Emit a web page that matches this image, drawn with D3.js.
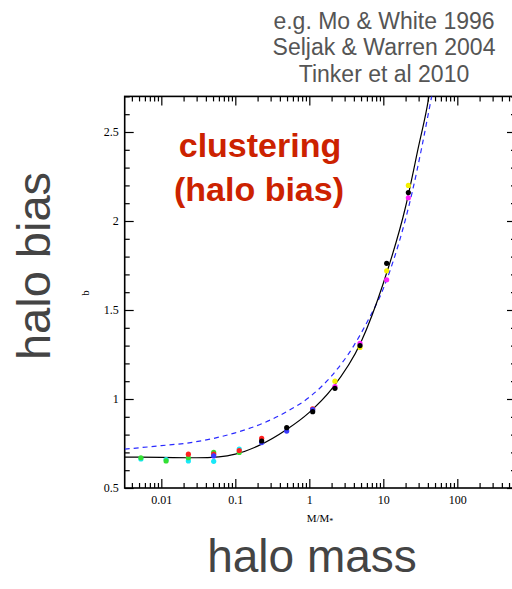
<!DOCTYPE html>
<html>
<head>
<meta charset="utf-8">
<script src="https://cdn.jsdelivr.net/npm/d3@7"></script>
<style>
  html, body { margin: 0; padding: 0; background: #fff; }
  svg { display: block; }
</style>
</head>
<body>
<svg id="chart" width="512" height="589"></svg>
<script>
// Halo bias b as a function of mass in units of the non-linear mass M*.

// Tick values
const xMajorTicks = [0.01, 0.1, 1, 10, 100];
const xTickLabels = ["0.01", "0.1", "1", "10", "100"];
const yMajorTicks = [0.5, 1, 1.5, 2, 2.5];
const yTickLabels = ["0.5", "1", "1.5", "2", "2.5"];

// Fitting function (solid black)
const fitMass = [0.0032, 0.01, 0.03, 0.06, 0.1, 0.2, 0.5, 1, 2, 5, 10, 20, 30, 40.6, 45];
const fitBias = [0.674, 0.672, 0.670, 0.675, 0.69, 0.735, 0.83, 0.925, 1.055, 1.32, 1.65, 2.08, 2.42, 2.68, 2.80];

// Analytic model (dashed blue)
const modelMass = [0.0032, 0.01, 0.022, 0.05, 0.1, 0.24, 0.5, 1, 2, 4, 6, 10, 24.5, 45, 50];
const modelBias = [0.718, 0.738, 0.752, 0.778, 0.81, 0.865, 0.93, 1.01, 1.13, 1.30, 1.43, 1.62, 2.16, 2.70, 2.80];

// Simulation measurements, one list per simulation set: [M/M*, b]
const simCyan    = [[0.0053, 0.663], [0.0116, 0.660], [0.0232, 0.652], [0.051, 0.650], [0.113, 0.719]];
const simGreen   = [[0.0053, 0.670], [0.0116, 0.652], [0.0232, 0.670], [0.051, 0.700], [0.113, 0.700]];
const simRed     = [[0.0232, 0.690], [0.051, 0.690], [0.113, 0.710], [0.227, 0.779], [1.11, 0.944]];
const simBlue    = [[0.051, 0.680], [0.227, 0.755], [0.495, 0.820], [1.11, 0.940]];
const simBlack   = [[0.227, 0.764], [0.495, 0.839], [1.11, 0.929], [2.22, 1.060], [4.84, 1.300], [11.1, 1.762], [21.8, 2.160]];
const simMagenta = [[2.22, 1.070], [4.84, 1.313], [11.1, 1.670], [21.8, 2.130]];
const simYellow  = [[2.22, 1.100], [4.84, 1.290], [11.1, 1.720], [21.8, 2.200]];

const simSets = [
  { pts: simCyan,    color: "#18e8f8" },
  { pts: simGreen,   color: "#33e033" },
  { pts: simRed,     color: "#ff2020" },
  { pts: simBlue,    color: "#3a3aff" },
  { pts: simMagenta, color: "#ff22ff" },
  { pts: simYellow,  color: "#f5f000" },
  { pts: simBlack,   color: "#000000" }
];

const svg = d3.select("#chart");

const plotLeft = 124.7, plotRight = 516, plotTop = 96.4, plotBottom = 488;

const x = d3.scaleLog().domain([0.0032, 621]).range([plotLeft, plotRight]);
const y = d3.scaleLinear().domain([0.5, 2.7]).range([plotBottom, plotTop]);

// Minor tick values
const xMinor = [];
for (let e = -3; e <= 2; e++) {
  for (let k = 2; k <= 9; k++) {
    const v = k * Math.pow(10, e);
    if (v >= 0.0032 && v <= 621) xMinor.push(v);
  }
}
const yMinor = d3.range(5, 28).map(i => i / 10).filter(v => !yMajorTicks.some(t => Math.abs(t - v) < 1e-9));

const serif = "'Liberation Serif', 'DejaVu Serif', serif";
const sans = "'Liberation Sans', Arial, Helvetica, sans-serif";

// Clip for curves
svg.append("defs").append("clipPath").attr("id", "plotClip")
  .append("rect").attr("x", plotLeft).attr("y", plotTop)
  .attr("width", plotRight - plotLeft).attr("height", plotBottom - plotTop);

function styleAxis(g) {
  g.selectAll(".domain").remove();
  g.selectAll(".tick line").attr("stroke", "#000").attr("stroke-width", 1.2);
  g.selectAll("text").attr("font-family", serif).attr("font-size", 12).attr("fill", "#000");
}

// Bottom axis
svg.append("g").attr("transform", `translate(0,${plotBottom})`)
  .call(d3.axisBottom(x).tickValues(xMajorTicks).tickSize(-9).tickPadding(7)
    .tickFormat((d, i) => xTickLabels[i]))
  .call(styleAxis);
svg.append("g").attr("transform", `translate(0,${plotBottom})`)
  .call(d3.axisBottom(x).tickValues(xMinor).tickSize(-5).tickFormat(""))
  .call(styleAxis);
// Top axis
svg.append("g").attr("transform", `translate(0,${plotTop})`)
  .call(d3.axisTop(x).tickValues(xMajorTicks).tickSize(-9).tickFormat(""))
  .call(styleAxis);
svg.append("g").attr("transform", `translate(0,${plotTop})`)
  .call(d3.axisTop(x).tickValues(xMinor).tickSize(-5).tickFormat(""))
  .call(styleAxis);
// Left axis
svg.append("g").attr("transform", `translate(${plotLeft},0)`)
  .call(d3.axisLeft(y).tickValues(yMajorTicks).tickSize(-9).tickPadding(6)
    .tickFormat((d, i) => yTickLabels[i]))
  .call(styleAxis);
svg.append("g").attr("transform", `translate(${plotLeft},0)`)
  .call(d3.axisLeft(y).tickValues(yMinor).tickSize(-5).tickFormat(""))
  .call(styleAxis);
// Right axis
svg.append("g").attr("transform", `translate(${plotRight},0)`)
  .call(d3.axisRight(y).tickValues(yMajorTicks).tickSize(-9).tickFormat(""))
  .call(styleAxis);
svg.append("g").attr("transform", `translate(${plotRight},0)`)
  .call(d3.axisRight(y).tickValues(yMinor).tickSize(-5).tickFormat(""))
  .call(styleAxis);

// Frame
svg.append("rect").attr("x", plotLeft).attr("y", plotTop)
  .attr("width", plotRight - plotLeft).attr("height", plotBottom - plotTop)
  .attr("fill", "none").attr("stroke", "#000").attr("stroke-width", 1.6);

// Curves
const line = d3.line().x(d => x(d[0])).y(d => y(d[1])).curve(d3.curveMonotoneX);
const plot = svg.append("g").attr("clip-path", "url(#plotClip)");

plot.append("path")
  .datum(modelMass.map((m, i) => [m, modelBias[i]]))
  .attr("d", line).attr("fill", "none")
  .attr("stroke", "#2a2aff").attr("stroke-width", 1.2).attr("stroke-dasharray", "5,4");

plot.append("path")
  .datum(fitMass.map((m, i) => [m, fitBias[i]]))
  .attr("d", line).attr("fill", "none")
  .attr("stroke", "#000").attr("stroke-width", 1.2);

// Simulation points
simSets.forEach(s => {
  plot.append("g").selectAll("circle").data(s.pts).join("circle")
    .attr("cx", d => x(d[0])).attr("cy", d => y(d[1])).attr("r", 2.6)
    .attr("fill", s.color);
});

// Axis titles
svg.append("text").attr("transform", "translate(89,293) rotate(-90)")
  .attr("text-anchor", "middle").attr("font-family", serif).attr("font-size", 11).text("b");

const xt = svg.append("text").attr("x", 320).attr("y", 522).attr("text-anchor", "middle")
  .attr("font-family", serif).attr("font-size", 11);
xt.append("tspan").text("M/M");
xt.append("tspan").attr("font-size", 8).attr("dy", 2).text("*");

// Annotations
svg.append("text").attr("transform", "translate(50,266) rotate(-90)")
  .attr("text-anchor", "middle").attr("font-family", sans).attr("font-size", 47)
  .attr("fill", "#444").text("halo bias");

svg.append("text").attr("x", 312).attr("y", 572).attr("text-anchor", "middle")
  .attr("font-family", sans).attr("font-size", 46).attr("fill", "#444").text("halo mass");

const red = svg.append("g").attr("font-family", sans).attr("font-weight", "bold")
  .attr("font-size", 34).attr("fill", "#cc2200").attr("text-anchor", "middle");
red.append("text").attr("x", 260).attr("y", 157).text("clustering");
red.append("text").attr("x", 259).attr("y", 201).text("(halo bias)");

const refs = ["e.g. Mo & White 1996", "Seljak & Warren 2004", "Tinker et al 2010"];
svg.append("g").selectAll("text").data(refs).join("text")
  .attr("x", 384).attr("y", (d, i) => 28.5 + i * 26.5)
  .attr("text-anchor", "middle").attr("font-family", sans).attr("font-size", 23)
  .attr("fill", "#555").text(d => d);
</script>
</body>
</html>
